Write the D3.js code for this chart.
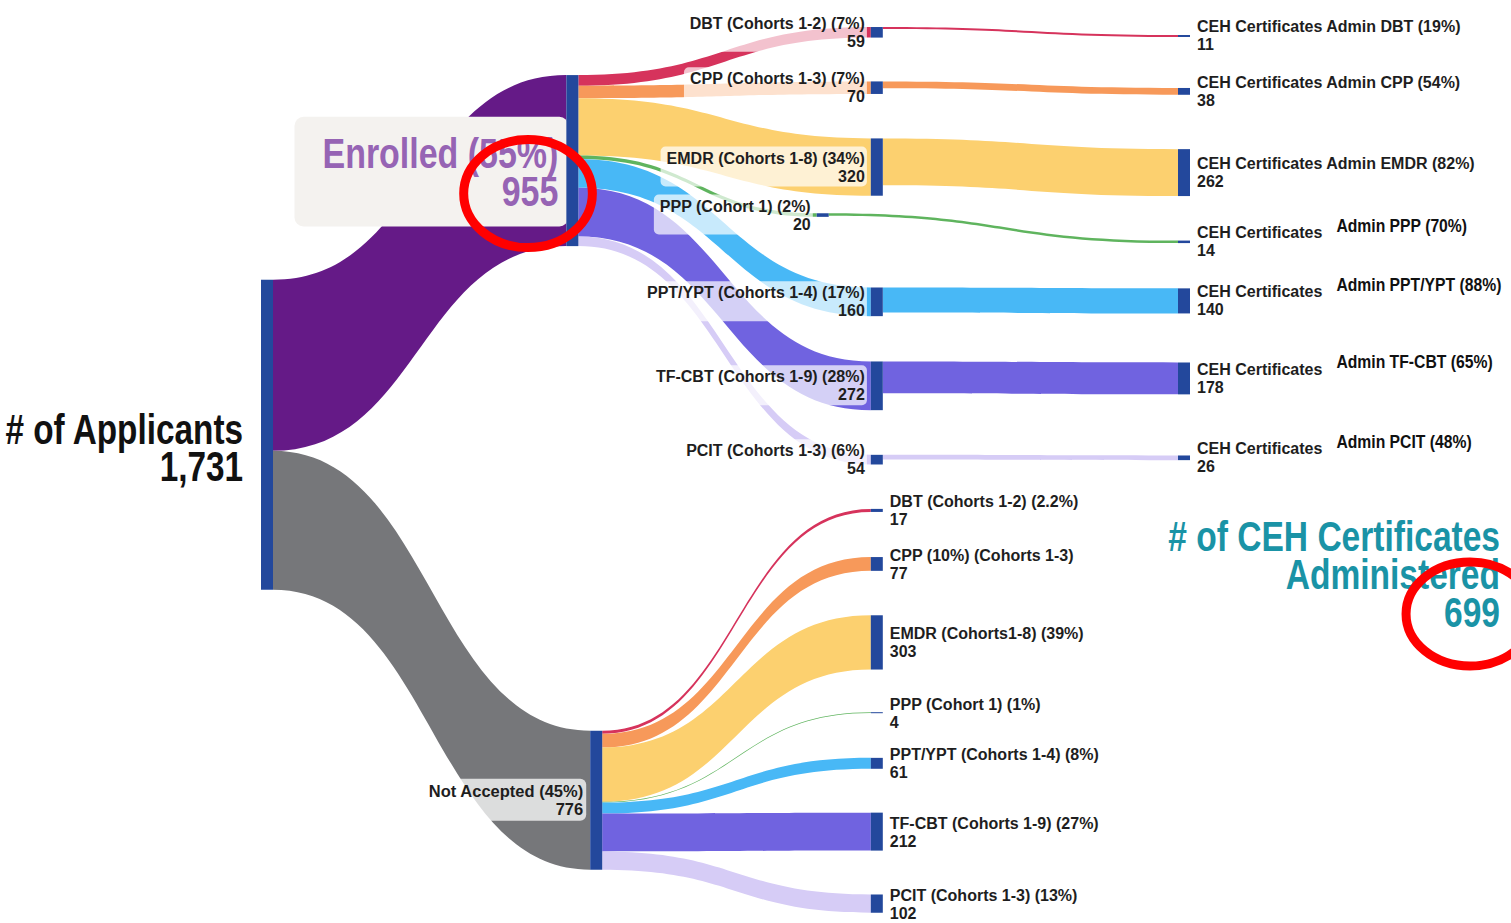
<!doctype html>
<html lang="en">
<head>
<meta charset="utf-8">
<title>Applicants to CEH Certificates</title>
<style>
  body { margin: 0; background: #fff; }
  svg { display: block; }
  text { font-family: "Liberation Sans", Arial, sans-serif; font-weight: bold; fill: #1e1e1e; }
</style>
</head>
<body>
<script src="https://d3js.org/d3.v7.min.js"></script>
<script>
// ---- data ----
var programs = ['DBT', 'CPP', 'EMDR', 'PPP', 'PPT/YPT', 'TF-CBT', 'PCIT'];
var enrolledCounts = [59, 70, 320, 20, 160, 272, 54];
var notAcceptedCounts = [17, 77, 303, 4, 61, 212, 102];
var certCounts = [11, 38, 262, 14, 140, 178, 26];

var enrolledLabels = ['DBT (Cohorts 1-2) (7%)', 'CPP (Cohorts 1-3) (7%)', 'EMDR (Cohorts 1-8) (34%)',
  'PPP (Cohort 1) (2%)', 'PPT/YPT (Cohorts 1-4) (17%)', 'TF-CBT (Cohorts 1-9) (28%)', 'PCIT (Cohorts 1-3) (6%)'];
var notAcceptedLabels = ['DBT (Cohorts 1-2) (2.2%)', 'CPP (10%) (Cohorts 1-3)', 'EMDR (Cohorts1-8) (39%)',
  'PPP (Cohort 1) (1%)', 'PPT/YPT (Cohorts 1-4) (8%)', 'TF-CBT (Cohorts 1-9) (27%)', 'PCIT (Cohorts 1-3) (13%)'];
var certLabels = ['CEH Certificates Admin DBT (19%)', 'CEH Certificates Admin CPP (54%)', 'CEH Certificates Admin EMDR (82%)',
  'CEH Certificates', 'CEH Certificates', 'CEH Certificates', 'CEH Certificates'];
var certSideLabels = ['', '', '', 'Admin PPP (70%)', 'Admin PPT/YPT (88%)', 'Admin TF-CBT (65%)', 'Admin PCIT (48%)'];

var totalApplicants = 1731;
var totalEnrolled = 955;
var totalNotAccepted = 776;
var totalCertificates = 699;
var enrolledShare = '55%';
var notAcceptedShare = '45%';

// ---- layout (fixed arrangement, fractions of the plot like plotly node.x / node.y) ----
var colX = { applicants: 0, enrolled: 0.333, notAccepted: 0.359, program: 0.665, pppEnrolled: 0.606, cert: 1 };
var rootY = { applicants: 0.471, enrolled: 0.174, notAccepted: 0.867 };
var enrolledY = [0.035, 0.095, 0.181, 0.233, 0.327, 0.418, 0.498];
var notAcceptedY = [0.553, 0.611, 0.696, 0.772, 0.827, 0.901, 0.979];
var certY = [0.039, 0.099, 0.187, 0.262, 0.326, 0.410, 0.496];

var programColors = ['#d6335c', '#f7995a', '#fcd06f', '#5fb45e', '#48b8f6', '#7063e0', '#d6ccf6'];
var nodeColor = '#23489c';

var width = 1511, height = 923, nodeW = 12;

var x = d3.scaleLinear().domain([0, 1]).range([261, 1178]);
var y = d3.scaleLinear().domain([0, 1]).range([0, height]);
var v = d3.scaleLinear().domain([0, totalApplicants]).range([0, 310]);
var fmt = d3.format(',');

// ---- nodes & links ----
var nodes = [];
var links = [];
function addNode(id, fx, fy) {
  var n = { id: id, fx: fx, fy: fy, inL: [], outL: [] };
  nodes.push(n);
  return n;
}
function addLink(s, t, value, color) {
  var l = { source: s, target: t, value: value, color: color };
  s.outL.push(l); t.inL.push(l);
  links.push(l);
}

var nApp = addNode('applicants', colX.applicants, rootY.applicants);
var nEnr = addNode('enrolled', colX.enrolled, rootY.enrolled);
var nNA = addNode('notAccepted', colX.notAccepted, rootY.notAccepted);
addLink(nApp, nEnr, totalEnrolled, '#651a87');
addLink(nApp, nNA, totalNotAccepted, '#76777a');

var enrNodes = programs.map(function(p, i) {
  var n = addNode('enr-' + p, p === 'PPP' ? colX.pppEnrolled : colX.program, enrolledY[i]);
  addLink(nEnr, n, enrolledCounts[i], programColors[i]);
  return n;
});
var naNodes = programs.map(function(p, i) {
  var n = addNode('na-' + p, colX.program, notAcceptedY[i]);
  addLink(nNA, n, notAcceptedCounts[i], programColors[i]);
  return n;
});
var certNodes = programs.map(function(p, i) {
  var n = addNode('cert-' + p, colX.cert, certY[i]);
  addLink(enrNodes[i], n, certCounts[i], programColors[i]);
  return n;
});

nodes.forEach(function(n) {
  var vin = d3.sum(n.inL, function(l) { return l.value; });
  var vout = d3.sum(n.outL, function(l) { return l.value; });
  n.value = Math.max(vin, vout);
  n.h = v(n.value);
  n.x0 = x(n.fx); n.x1 = n.x0 + nodeW;
  n.cy = y(n.fy);
  n.y0 = n.cy - n.h / 2; n.y1 = n.y0 + n.h;
  var off = n.y0;
  n.outL.forEach(function(l) { l.w = v(l.value); l.sy0 = off; off += l.w; });
  off = n.y0;
  n.inL.forEach(function(l) { l.ty0 = off; off += v(l.value); });
});

function ribbon(l) {
  var x0 = l.source.x1, x1 = l.target.x0, xm = d3.interpolateNumber(x0, x1)(0.5);
  var p = d3.path();
  p.moveTo(x0, l.sy0);
  p.bezierCurveTo(xm, l.sy0, xm, l.ty0, x1, l.ty0);
  p.lineTo(x1, l.ty0 + l.w);
  p.bezierCurveTo(xm, l.ty0 + l.w, xm, l.sy0 + l.w, x0, l.sy0 + l.w);
  p.closePath();
  return p.toString();
}

var svg = d3.select('body').append('svg')
  .attr('width', width)
  .attr('height', height);

svg.append('g').selectAll('path')
  .data(links)
  .enter().append('path')
  .attr('d', ribbon)
  .attr('fill', function(d) { return d.color; });

var boxLayer = svg.append('g');
var nodeLayer = svg.append('g');
var textLayer = svg.append('g');

// stacked lines of text; sx < 1 squeezes the glyphs (no narrow font installed)
function lines(parent, xPos, yBase, anchor, texts, size, gap, color, sx) {
  var g = parent.append('g');
  texts.forEach(function(t, i) {
    g.append('text')
      .attr('transform', 'translate(' + xPos + ',' + (yBase + i * gap) + ') scale(' + (sx || 1) + ',1)')
      .attr('text-anchor', anchor)
      .style('font-size', size + 'px')
      .style('fill', color || null)
      .text(t);
  });
  return g;
}
function backBox(g, fill, pad, r) {
  var bb = g.node().getBBox();
  boxLayer.append('rect')
    .attr('x', bb.x - pad[3])
    .attr('y', bb.y - pad[0])
    .attr('width', bb.width + pad[1] + pad[3])
    .attr('height', bb.height + pad[0] + pad[2])
    .attr('rx', r)
    .attr('fill', fill);
}

// enrolled program labels (left of nodes, translucent boxes over the links)
enrNodes.forEach(function(n, i) {
  var g = lines(textLayer, n.x0 - 6, n.cy - 3.5, 'end', [enrolledLabels[i], enrolledCounts[i]], 16, 18);
  backBox(g, 'rgba(255,255,255,0.7)', [3, 2, 2, 6], 5);
});

// not accepted program labels (right of nodes)
naNodes.forEach(function(n, i) {
  lines(textLayer, n.x1 + 7, n.cy - 3, 'start', [notAcceptedLabels[i], notAcceptedCounts[i]], 16, 18);
});

// certificate labels
certNodes.forEach(function(n, i) {
  var g = lines(textLayer, n.x1 + 7, n.cy - 3.5, 'start', [certLabels[i], certCounts[i]], 16, 18);
  if (certSideLabels[i]) {
    var w = g.select('text').node().getComputedTextLength();
    lines(textLayer, n.x1 + 7 + w + 14, n.cy - 10, 'start', [certSideLabels[i]], 18.5, 0, '#111', 0.85);
  }
});

// not accepted label
var gNA = lines(textLayer, nNA.x0 - 7, nNA.cy - 3.5, 'end', ['Not Accepted (' + notAcceptedShare + ')', totalNotAccepted], 16.5, 18);
backBox(gNA, 'rgba(255,255,255,0.75)', [3, 3, 3, 5], 6);

// enrolled title with its opaque box
var gEnr = lines(textLayer, nEnr.x0 - 8, nEnr.cy + 7, 'end', ['Enrolled (' + enrolledShare + ')', totalEnrolled], 43, 38, '#9664b4', 0.79);
backBox(gEnr, '#f4f2ef', [12, 10, 12, 28], 9);

// applicants title
lines(textLayer, nApp.x0 - 18, nApp.cy + 9, 'end', ['# of Applicants', fmt(totalApplicants)], 43, 37, '#111', 0.775);

// certificates title
var gCert = lines(textLayer, width - 11, y(0.597), 'end', ['# of CEH Certificates', 'Administered', totalCertificates], 43, 38, '#1a93a6', 0.78);

// nodes
nodeLayer.selectAll('rect')
  .data(nodes)
  .enter().append('rect')
  .attr('x', function(d) { return d.x0; })
  .attr('y', function(d) { return d.y0; })
  .attr('width', nodeW)
  .attr('height', function(d) { return Math.max(1, d.h); })
  .attr('fill', nodeColor);

// red highlight rings around the two totals
var ringTargets = [gEnr.selectAll('text').nodes()[1], gCert.selectAll('text').nodes()[2]];
ringTargets.forEach(function(t, i) {
  var bb = t.getBBox();
  var m = t.getCTM();
  var cx = m.e + m.a * (bb.x + bb.width / 2);
  var cy = m.f + bb.y + bb.height / 2;
  svg.append('ellipse')
    .attr('cx', cx - 2)
    .attr('cy', cy + 3 - i)
    .attr('rx', m.a * bb.width / 2 + 36)
    .attr('ry', 54 - 2 * i)
    .attr('fill', 'none')
    .attr('stroke', '#ff0000')
    .attr('stroke-width', 9);
});
</script>
</body>
</html>
